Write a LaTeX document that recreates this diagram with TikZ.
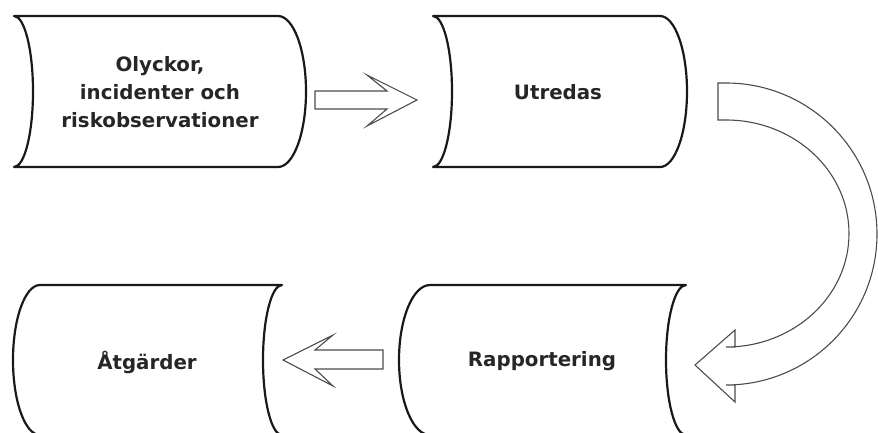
\documentclass[tikz,border=0pt]{standalone}
\usepackage{fontspec}
\setmainfont{DejaVu Sans}

\begin{document}
\begin{tikzpicture}[x=1pt, y=-1pt,
        boxline/.style={line width=2.2pt, draw=black!90, line join=round},
        blockarrow/.style={line width=1.1pt, draw=black!70, fill=white, line join=miter},
        label/.style={align=center, text=black!85, font=\fontsize{19.8}{28}\selectfont\bfseries}]
            \useasboundingbox (0, 0) rectangle (878, 432);
            % top row, boxes pointing right
            \draw[boxline] (14, 16) -- (278, 16)
                arc[start angle=-90, end angle=90, x radius=28, y radius=75.5]
                -- (14, 167)
                arc[start angle=90, end angle=-90, x radius=19, y radius=75.5] -- cycle;
            \draw[boxline] (433, 16) -- (660, 16)
                arc[start angle=-90, end angle=90, x radius=27, y radius=75.5]
                -- (433, 167)
                arc[start angle=90, end angle=-90, x radius=19, y radius=75.5] -- cycle;
            % bottom row, boxes pointing left
            \draw[boxline] (430, 285) -- (686, 285)
                arc[start angle=-90, end angle=-270, x radius=20, y radius=75]
                -- (430, 435)
                arc[start angle=90, end angle=270, x radius=31, y radius=75] -- cycle;
            \draw[boxline] (40, 285) -- (282, 285)
                arc[start angle=-90, end angle=-270, x radius=19, y radius=75]
                -- (40, 435)
                arc[start angle=90, end angle=270, x radius=27, y radius=75] -- cycle;
            % texts
            \node[label] (olyckor) at (160, 92) {Olyckor,\\incidenter och\\riskobservationer};
            \node[label] (utredas) at (558, 92) {Utredas};
            \node[label] (rapport) at (542, 361) {Rapportering};
            \node[label] (atgard) at (147, 362) {Åtgärder};
            % block arrows
            \draw[blockarrow] (315, 91) -- (387, 91) -- (367, 75) -- (417, 100)
                -- (367, 126) -- (387, 109) -- (315, 109) -- cycle;
            \draw[blockarrow] (383, 350) -- (315, 350) -- (333, 335) -- (283, 360)
                -- (333, 386) -- (315, 369) -- (383, 369) -- cycle;
            \draw[blockarrow] (718, 83) -- (726, 83)
                arc[start angle=-90, end angle=90, x radius=151, y radius=151]
                -- (735, 385) -- (735, 402) -- (695, 365) -- (735, 330) -- (735, 347)
                -- (726, 347)
                arc[start angle=90, end angle=-90, x radius=123, y radius=113.5]
                -- (718, 120) -- cycle;
        \end{tikzpicture}
\end{document}
